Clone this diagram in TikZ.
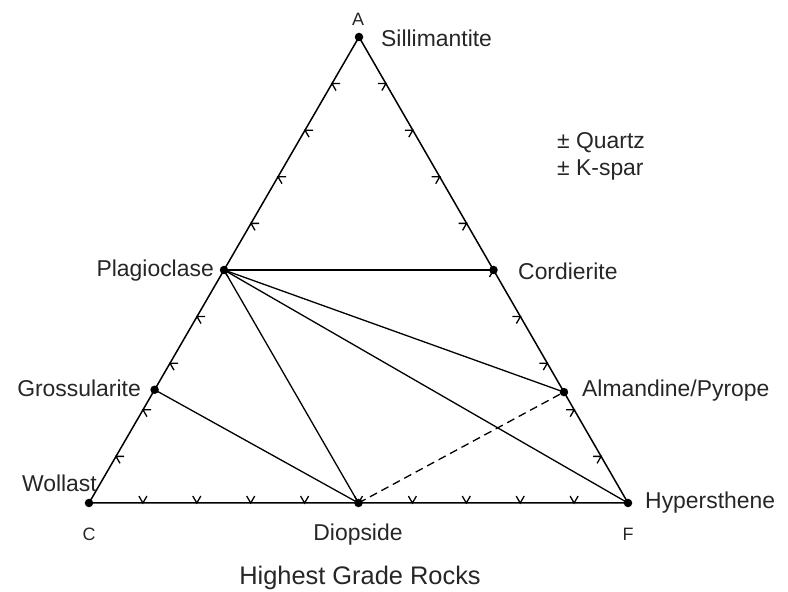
\documentclass[tikz,border=0pt]{standalone}
\usepackage{fontspec}
\setmainfont{Liberation Sans}
\usetikzlibrary{calc}
\tikzset{
  edge/.style={line width=1.5bp, black},
  tie/.style={line width=1.3bp, black},
  tickmark/.style={line width=1.3bp, black},
  dot/.style={circle, fill=black, inner sep=0pt, minimum size=8.5bp},
  lbl/.style={font=\fontsize{23}{26}\selectfont, inner sep=0pt, text=black!85},
  corner/.style={font=\fontsize{18}{20}\selectfont, inner sep=0pt, text=black!85},
  ttl/.style={font=\fontsize{25.5}{28}\selectfont, inner sep=0pt, text=black!85}
}
\begin{document}
\begin{tikzpicture}[x=1bp,y=1bp]
\useasboundingbox (0,0) rectangle (788,592);
% vertices (y up: y = 592 - image y)
\coordinate (A) at (359,555);
\coordinate (C) at (89,89);
\coordinate (F) at (628,89);
\coordinate (Pl) at ($(A)!0.5!(C)$);
\coordinate (Co) at ($(A)!0.5!(F)$);
\coordinate (Gr) at ($(A)!0.757!(C)$);
\coordinate (Al) at ($(A)!0.762!(F)$);
\coordinate (Di) at ($(C)!0.5!(F)$);
% tie lines
\draw[tie] (Pl) -- (Co);
\draw[tie] (Pl) -- (Al);
\draw[tie] (Pl) -- (F);
\draw[tie] (Pl) -- (Di);
\draw[tie] (Gr) -- (Di);
\draw[tie, dash pattern=on 8bp off 5bp] (Di) -- (Al);
% triangle
\draw[edge] (A) -- (C) -- (F) -- cycle;
% tick marks
\def\tl{8}
\foreach \t in {0.1,0.2,0.3,0.4,0.5,0.6,0.7,0.8,0.9} {
  \coordinate (l) at ($(A)!\t!(C)$);
  \draw[tickmark] ($(l)+(0:\tl)$) -- (l) -- ($(l)+(300:\tl)$);
  \coordinate (r) at ($(A)!\t!(F)$);
  \draw[tickmark] ($(r)+(180:\tl)$) -- (r) -- ($(r)+(240:\tl)$);
  \coordinate (b) at ($(C)!\t!(F)$);
  \draw[tickmark] ($(b)+(60:\tl)$) -- (b) -- ($(b)+(120:\tl)$);
}
% dots
\foreach \p in {A,C,F,Pl,Co,Gr,Al,Di} \node[dot] (d\p) at (\p) {};
% labels
\node[corner] (lA) at (358,573) {A};
\node[corner] (lC) at (89,58) {C};
\node[corner] (lF) at (628,58) {F};
\node[lbl, anchor=west] (lSil) at (381,554) {Sillimantite};
\node[lbl, anchor=west] (lQz) at (557,449) {± Quartz};
\node[lbl, anchor=west] (lKs) at (557,422) {± K-spar};
\node[lbl, anchor=east] (lPl) at (214,321) {Plagioclase};
\node[lbl, anchor=west] (lCo) at (518,321) {Cordierite};
\node[lbl, anchor=east] (lGr) at (141,204) {Grossularite};
\node[lbl, anchor=west] (lAl) at (582,201) {Almandine/Pyrope};
\node[lbl, anchor=east] (lWo) at (97,109) {Wollast};
\node[lbl, anchor=west] (lHy) at (645,89) {Hypersthene};
\node[lbl] (lDi) at (358,57) {Diopside};
\node[ttl] (lTi) at (360,14) {Highest Grade Rocks};
\end{tikzpicture}
\end{document}
